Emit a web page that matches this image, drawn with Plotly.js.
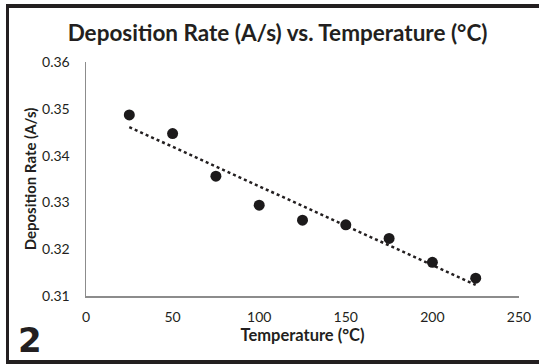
<!DOCTYPE html>
<html>
<head>
<meta charset="utf-8">
<script src="https://cdn.plot.ly/plotly-3.0.1.min.js"></script>
<style>
html,body{margin:0;padding:0;background:#fff;}
#wrap{position:relative;width:539px;height:364px;overflow:hidden;}
#chart{position:absolute;left:0;top:0;width:539px;height:364px;}
#frame{position:absolute;left:6px;top:4px;width:560px;height:352px;border-top:4px solid #231f20;border-left:3px solid #231f20;border-bottom:4px solid #231f20;pointer-events:none;}
</style>
</head>
<body>
<div id="wrap"><div id="chart"></div><div id="frame"></div></div>
<script>
var temperatures = [25, 50, 75, 100, 125, 150, 175, 200, 225];
var depositionRates = [0.3487, 0.3447, 0.3356, 0.3294, 0.3262, 0.3252, 0.3223, 0.3172, 0.3138];
var xTickValues = [0, 50, 100, 150, 200, 250];
var yTickValues = [0.31, 0.32, 0.33, 0.34, 0.35, 0.36];
var yTickLabels = ["0.31", "0.32", "0.33", "0.34", "0.35", "0.36"];

// least-squares linear trendline (as in the spreadsheet chart)
var n = temperatures.length, sx = 0, sy = 0, sxx = 0, sxy = 0;
for (var i = 0; i < n; i++) { sx += temperatures[i]; sy += depositionRates[i]; sxx += temperatures[i]*temperatures[i]; sxy += temperatures[i]*depositionRates[i]; }
var slope = (n*sxy - sx*sy) / (n*sxx - sx*sx);
var intercept = (sy - slope*sx) / n;
var trendX = [temperatures[0], temperatures[n-1]];
var trendY = trendX.map(function(x){ return intercept + slope*x; });

var font = 'Lato, "Open Sans", sans-serif';
var data = [
  {x: trendX, y: trendY, type: 'scatter', mode: 'lines', line: {color: '#231f20', width: 2.5, dash: 'dot'}, hoverinfo: 'skip'},
  {x: temperatures, y: depositionRates, type: 'scatter', mode: 'markers', marker: {color: '#1c1a1b', size: 11}}
];
var layout = {
  width: 539, height: 364,
  margin: {l: 86, r: 20, t: 62, b: 68},
  paper_bgcolor: '#fff', plot_bgcolor: '#fff',
  showlegend: false,
  font: {family: font, color: '#231f20'},
  title: {text: '<b>Deposition Rate (A/s) vs. Temperature (°C)</b>', font: {family: font, size: 22.5, color: '#231f20'},
          xref: 'container', x: 0.515, xanchor: 'center', yref: 'container', y: 0.909, yanchor: 'middle'},
  xaxis: {range: [0, 250], tickvals: xTickValues, showgrid: false, zeroline: false, showline: true, linecolor: '#8c8c8c', linewidth: 1.5,
          ticks: '', ticklabelstandoff: 8, tickfont: {family: font, size: 14, color: '#231f20'}, automargin: false,
          title: {text: '<b>Temperature (°C)</b>', font: {family: font, size: 16.5, color: '#231f20'}, standoff: 4}},
  yaxis: {range: [0.31, 0.36], tickvals: yTickValues, ticktext: yTickLabels, showgrid: false, zeroline: false, showline: true, linecolor: '#8c8c8c', linewidth: 1.5,
          ticks: '', ticklabelstandoff: 12, tickfont: {family: font, size: 14, color: '#231f20'}, automargin: false,
          title: {text: '<b>Deposition Rate (A/s)</b>', font: {family: font, size: 15, color: '#231f20'}, standoff: 2}},
  annotations: [{text: '<b>2</b>', xref: 'paper', yref: 'paper', x: -0.162, y: -0.19, xanchor: 'left', yanchor: 'middle', showarrow: false,
                 font: {family: '"DejaVu Sans", sans-serif', size: 34, color: '#231f20'}}]
};
Plotly.newPlot('chart', data, layout, {displayModeBar: false, staticPlot: true});
</script>
</body>
</html>
